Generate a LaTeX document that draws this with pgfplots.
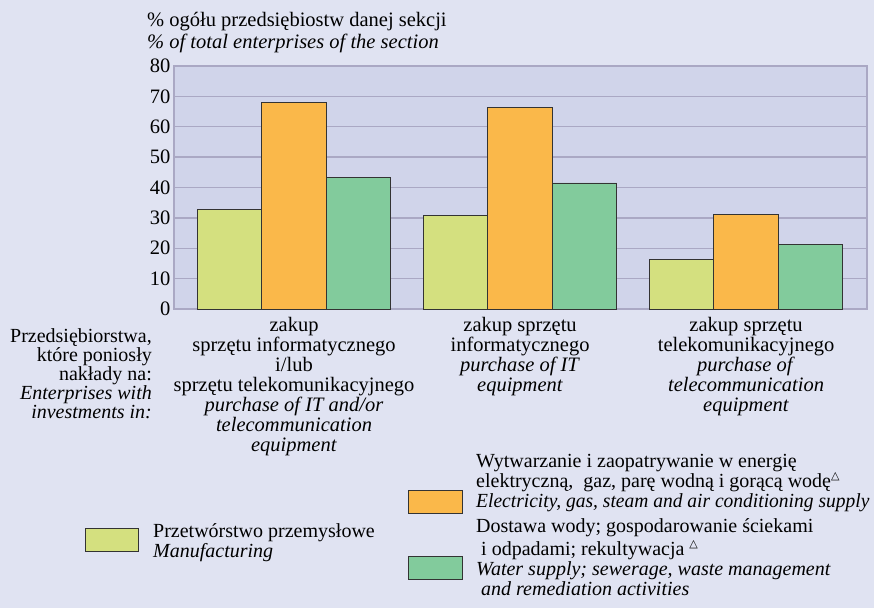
\documentclass[border=0pt]{standalone}
\usepackage{fontspec}
\setmainfont{Liberation Serif}
\newfontfamily\symfont{DejaVu Sans}
\usepackage{pgfplots}
\pgfplotsset{compat=1.18}

\definecolor{outerbg}{HTML}{E0E3F2}
\definecolor{plotbg}{HTML}{D0D4EA}
\definecolor{gridcol}{HTML}{AAA8C4}
\definecolor{cyel}{HTML}{D4E07F}
\definecolor{corg}{HTML}{FAB84A}
\definecolor{cgrn}{HTML}{82CB9C}
\definecolor{edge}{HTML}{333333}

\newcommand{\txt}{\fontsize{20.5}{20}\selectfont}
\newcommand{\legtxt}{\fontsize{20}{20}\selectfont}
\newcommand{\tri}{\textsuperscript{\symfont\fontsize{11}{11}\selectfont △}}

\begin{document}
\begin{tikzpicture}[x=1pt,y=1pt]
\useasboundingbox (0,0) rectangle (874,-608);
\fill[outerbg] (0,0) rectangle (874,-608);

% axis title
\node[anchor=base west,inner sep=0,font=\txt] at (147,-26) {\% ogółu przedsiębiostw danej sekcji};
\node[anchor=base west,inner sep=0,font=\txt\itshape] at (147,-48) {\% of total enterprises of the section};

\begin{axis}[
    at={(174pt,-309pt)}, anchor=south west,
    scale only axis,
    width=693pt, height=243pt,
    xmin=-0.531, xmax=2.535,
    ymin=0, ymax=80,
    ybar=0pt, bar width=64.5pt,
    ytick={0,10,...,80},
    xtick={0,1,2},
    xticklabels={
        {zakup\\sprzętu informatycznego\\i/lub\\sprzętu telekomunikacyjnego\\\textit{purchase of IT and/or}\\\textit{telecommunication}\\\textit{equipment}},
        {zakup sprzętu\\informatycznego\\\textit{purchase of IT}\\\textit{equipment}},
        {zakup sprzętu\\telekomunikacyjnego\\\textit{purchase of}\\\textit{telecommunication}\\\textit{equipment}}},
    xticklabel style={align=center, font=\txt, yshift=-5pt},
    yticklabel style={font=\txt},
    /pgf/number format/assume math mode=true,
    major tick length=0pt,
    ymajorgrids,
    grid style={color=gridcol, line width=1.3pt},
    axis line style={color=gridcol, line width=1.5pt},
    axis background/.style={fill=plotbg},
    every axis plot/.append style={draw=edge, line width=0.9pt},
]
\addplot[fill=cyel] coordinates {(0,32.7) (1,30.9) (2,16.2)};
\addplot[fill=corg] coordinates {(0,67.9) (1,66.4) (2,31.0)};
\addplot[fill=cgrn] coordinates {(0,43.4) (1,41.5) (2,21.2)};
\end{axis}

% left row label
\begin{scope}[every node/.style={anchor=base east,inner sep=0,font=\legtxt}]
\node at (152,-342) {Przedsiębiorstwa,};
\node at (152,-361) {które poniosły};
\node at (152,-380) {nakłady na:};
\node at (152,-399) {\itshape Enterprises with};
\node at (152,-418) {\itshape investments in:};
\end{scope}

% legend
\begin{scope}[every node/.style={anchor=base west,inner sep=0,font=\legtxt}]
\filldraw[fill=cyel,draw=edge,line width=0.9pt] (85,-528) rectangle (138,-551);
\node at (153,-537) {Przetwórstwo przemysłowe};
\node at (153,-557) {\itshape Manufacturing};
\filldraw[fill=corg,draw=edge,line width=0.9pt] (408,-490) rectangle (462,-513);
\node at (476,-467) {Wytwarzanie i zaopatrywanie w energię};
\node at (476,-487) {elektryczną,\ \ gaz, parę wodną i gorącą wodę\tri};
\node at (476,-507) {\scalebox{0.975}[1]{\itshape Electricity, gas, steam and air conditioning supply}};
\filldraw[fill=cgrn,draw=edge,line width=0.9pt] (408,-556) rectangle (462,-579);
\node at (476,-532) {Dostawa wody; gospodarowanie ściekami};
\node at (481,-555) {i odpadami; rekultywacja \tri};
\node at (476,-575) {\itshape Water supply; sewerage, waste management};
\node at (481,-595) {\itshape and remediation activities};
\end{scope}
\end{tikzpicture}
\end{document}
